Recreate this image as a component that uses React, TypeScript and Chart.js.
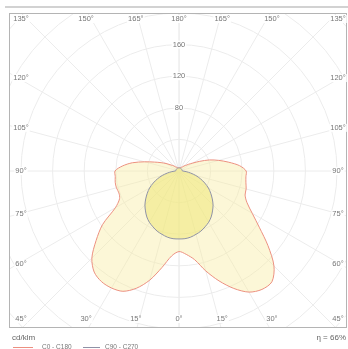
import React, { useEffect, useRef } from "react";
import { Chart, registerables } from "chart.js";

Chart.register(...registerables);

// Polar angles gamma (degrees from nadir), 5° steps
const polarAngles = [0, 5, 10, 15, 20, 25, 30, 35, 40, 45, 50, 55, 60, 65, 70, 75, 80, 85, 90, 95, 100, 105, 110, 115, 120, 125, 130, 135, 140, 145, 150, 155, 160, 165, 170, 175, 180];

// Luminous intensity (cd/klm)
const c0Values = [102, 106, 114, 131, 148, 164, 177, 183, 183, 170, 147, 124, 107, 95, 89, 88, 86, 85, 85, 77, 64, 52, 41, 29, 20, 15, 11, 9, 7, 6, 5, 5, 4, 4, 4, 4, 4];
const c180Values = [102, 108, 124, 143, 158, 168, 171, 171, 167, 156, 137, 118, 93, 83, 81, 82, 82, 81, 81, 72, 60, 45, 33, 25, 19, 14, 11, 9, 7, 6, 5, 5, 4, 4, 4, 4, 4];
const c90Values = [86, 86, 85, 83, 81, 78, 75, 71, 66, 61, 55, 49, 43, 36, 29, 22, 15, 9, 5, 4, 4, 4, 4, 4, 4, 4, 4, 4, 4, 4, 4, 4, 4, 4, 4, 4, 4];
const c270Values = [86, 86, 85, 83, 81, 78, 75, 71, 66, 61, 55, 49, 43, 36, 29, 22, 15, 9, 5, 4, 4, 4, 4, 4, 4, 4, 4, 4, 4, 4, 4, 4, 4, 4, 4, 4, 4];

// Grid
const ringValues = [40, 80, 120, 160, 200, 240, 280, 320];
const ringLabelValues = [80, 120, 160];
const gridAngles = [0, 15, 30, 45, 60, 75, 90, 105, 120, 135, 150, 165, 180];

// Texts
const seriesNames = ["C0 - C180", "C90 - C270"];
const unitText = "cd/klm";
const efficiencyText = "η = 66%";

const W = 348;
const H = 349;
const FRAME = { left: 9.5, top: 13.5, right: 346.5, bottom: 327.5 };
const GRID_COLOR = "#ececec";
const TEXT_COLOR = "#777777";
const FONT = "Arial, 'Liberation Sans', sans-serif";

// radar positions every 5°, clockwise from top (180°)
const STEP = 5;
const positionCount = 360 / STEP;
const positions = Array.from({ length: positionCount }, (_, i) => i * STEP);
const gammaAt = (p: number) => (p <= 180 ? 180 - p : p - 180);
const radarLabels = positions.map((p) => `${gammaAt(p)}°`);
const buildSeries = (right: number[], left: number[]) =>
  positions.map((p) => {
    const idx = polarAngles.indexOf(gammaAt(p));
    return p <= 180 ? right[idx] : left[idx];
  });
const idxFor = (gamma: number, side: number) => {
  const p = side > 0 ? 180 - gamma : 180 + gamma;
  return ((p % 360) / STEP) % positionCount;
};

const polarPlugin = {
  id: "polarDecor",
  beforeDatasetsDraw(chart: any) {
    const s = chart.scales.r;
    const ctx = chart.ctx;
    const cx = s.xCenter;
    const cy = s.yCenter;
    ctx.save();
    ctx.beginPath();
    ctx.rect(FRAME.left, FRAME.top, FRAME.right - FRAME.left, FRAME.bottom - FRAME.top);
    ctx.clip();
    ctx.strokeStyle = GRID_COLOR;
    ctx.lineWidth = 1;
    ringValues.forEach((v) => {
      const r = s.getDistanceFromCenterForValue(v);
      ctx.beginPath();
      ctx.arc(cx, cy, r, 0, Math.PI * 2);
      ctx.stroke();
    });
    gridAngles.forEach((g) => {
      [1, -1].forEach((side) => {
        const pt = s.getPointPositionForValue(idxFor(g, side), 800);
        ctx.beginPath();
        ctx.moveTo(cx, cy);
        ctx.lineTo(pt.x, pt.y);
        ctx.stroke();
      });
    });
    ctx.restore();
  },
  afterDraw(chart: any) {
    const s = chart.scales.r;
    const ctx = chart.ctx;
    const cx = s.xCenter;
    const cy = s.yCenter;
    ctx.save();
    // top band
    ctx.strokeStyle = "#d2d2d2";
    ctx.lineWidth = 2;
    ctx.beginPath();
    ctx.moveTo(5, 7);
    ctx.lineTo(348, 7);
    ctx.stroke();
    // frame
    ctx.strokeStyle = "#b4b4b4";
    ctx.lineWidth = 1;
    ctx.strokeRect(FRAME.left, FRAME.top, FRAME.right - FRAME.left, FRAME.bottom - FRAME.top);

    // angle labels
    ctx.font = `7.5px ${FONT}`;
    ctx.textAlign = "center";
    ctx.textBaseline = "middle";
    const D = 161;
    gridAngles.forEach((g) => {
      [1, -1].forEach((side) => {
        if ((g === 0 || g === 180) && side < 0) return;
        const pt = s.getPointPositionForValue(idxFor(g, side), 100);
        const len = Math.hypot(pt.x - cx, pt.y - cy);
        const ux = (pt.x - cx) / len;
        const uy = (pt.y - cy) / len;
        const t = D / Math.max(Math.abs(ux), Math.abs(uy));
        let x = cx + ux * t;
        let y = cy + uy * t;
        x = Math.min(338, Math.max(21, x));
        y = Math.min(319, Math.max(19, y));
        const txt = `${g}°`;
        const w = ctx.measureText(txt).width;
        ctx.fillStyle = "#ffffff";
        ctx.fillRect(x - w / 2 - 1, y - 4, w + 2, 8);
        ctx.fillStyle = TEXT_COLOR;
        ctx.fillText(txt, x, y);
      });
    });

    // ring labels
    ringLabelValues.forEach((v) => {
      const r = s.getDistanceFromCenterForValue(v);
      const txt = String(v);
      const w = ctx.measureText(txt).width;
      ctx.fillStyle = "#ffffff";
      ctx.fillRect(cx - w / 2 - 1, cy - r - 4, w + 2, 8);
      ctx.fillStyle = TEXT_COLOR;
      ctx.fillText(txt, cx, cy - r);
    });

    // footer
    ctx.textAlign = "left";
    ctx.font = `8px ${FONT}`;
    ctx.fillStyle = "#666666";
    ctx.fillText(unitText, 12, 338);
    ctx.textAlign = "right";
    ctx.fillText(efficiencyText, 346, 338);

    // legend
    ctx.textAlign = "left";
    ctx.font = `6.5px ${FONT}`;
    const ds = chart.data.datasets;
    const legendX = [[13, 33, 42], [83, 100, 105]];
    ds.forEach((d: any) => {
      const k = d.label === seriesNames[0] ? 0 : 1;
      const [x0, x1, tx] = legendX[k];
      ctx.strokeStyle = d.borderColor;
      ctx.lineWidth = 1;
      ctx.beginPath();
      ctx.moveTo(x0, 347.5);
      ctx.lineTo(x1, 347.5);
      ctx.stroke();
      ctx.fillStyle = TEXT_COLOR;
      ctx.fillText(d.label, tx, 347);
    });
    ctx.restore();
  },
};

export default function App() {
  const ref = useRef<HTMLCanvasElement | null>(null);
  useEffect(() => {
    if (!ref.current) return;
    const chart = new Chart(ref.current, {
      type: "radar",
      data: {
        labels: radarLabels,
        datasets: [
          {
            label: seriesNames[1],
            data: buildSeries(c90Values, c270Values),
            borderColor: "#8f92a6",
            backgroundColor: "rgba(238,232,120,0.55)",
            borderWidth: 1,
            fill: "origin",
            pointRadius: 0,
            tension: 0.3,
            order: 1,
          },
          {
            label: seriesNames[0],
            data: buildSeries(c0Values, c180Values),
            borderColor: "#ec9080",
            backgroundColor: "rgba(248,236,160,0.42)",
            borderWidth: 1,
            fill: "origin",
            pointRadius: 0,
            tension: 0.3,
            order: 2,
          },
        ],
      },
      options: {
        animation: false,
        responsive: false,
        devicePixelRatio: 1,
        events: [],
        layout: { padding: { left: 21, top: 13, right: 11, bottom: 20 } },
        plugins: { legend: { display: false }, tooltip: { enabled: false }, title: { display: false } },
        scales: {
          r: {
            min: 0,
            max: 200,
            startAngle: 0,
            ticks: { display: false },
            grid: { display: false },
            angleLines: { display: false },
            pointLabels: { display: false },
          },
        },
      },
      plugins: [polarPlugin],
    });
    return () => chart.destroy();
  }, []);
  return (
    <div style={{ position: "fixed", left: 0, top: 0, width: W, height: H, background: "#fff" }}>
      <canvas ref={ref} width={W} height={H} style={{ display: "block", width: W, height: H }} />
    </div>
  );
}
